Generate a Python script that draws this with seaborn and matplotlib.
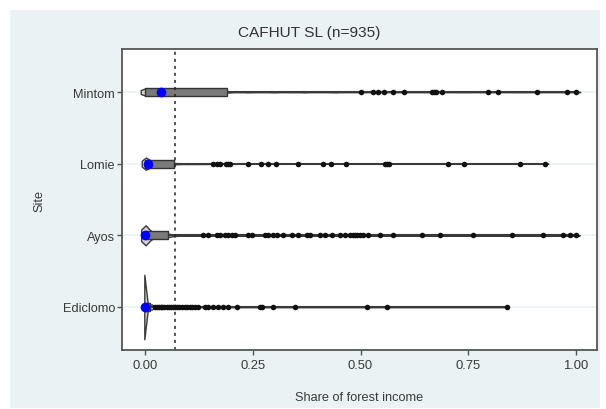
import numpy as np
import pandas as pd
import matplotlib
matplotlib.use("Agg")
import matplotlib.pyplot as plt
import seaborn as sns
from matplotlib.patches import Rectangle

sites = ["Mintom", "Lomie", "Ayos", "Ediclomo"]

# bulk of each site's forest income shares (value, number of households)
mintom_vals = [0.0, 0.01, 0.02, 0.03, 0.037, 0.06, 0.09, 0.12, 0.15, 0.19, 0.24, 0.30, 0.37, 0.44]
mintom_counts = [40, 8, 8, 8, 12, 7, 7, 7, 7, 8, 5, 5, 5, 5]
lomie_vals = [0.0, 0.007, 0.015, 0.025, 0.035, 0.045, 0.055, 0.063, 0.08, 0.10, 0.12, 0.14]
lomie_counts = [55, 30, 6, 6, 6, 6, 6, 8, 5, 5, 5, 5]
ayos_vals = [0.0, 0.005, 0.01, 0.02, 0.03, 0.04, 0.05, 0.06, 0.07, 0.085, 0.10, 0.12]
ayos_counts = [125, 8, 8, 8, 8, 8, 18, 4, 4, 4, 4, 4]
ediclomo_vals = [0.0, 0.005, 0.01, 0.015, 0.02]
ediclomo_counts = [118, 5, 5, 6, 3]

# outside values (drawn as dots)
mintom_out = [0.50, 0.53, 0.54, 0.555, 0.575, 0.60, 0.665, 0.67, 0.675, 0.69,
              0.795, 0.82, 0.91, 0.98, 1.00]
lomie_out = [0.158, 0.167, 0.174, 0.188, 0.193, 0.197, 0.239, 0.269, 0.285, 0.304,
             0.355, 0.413, 0.432, 0.466, 0.557, 0.561, 0.566, 0.703, 0.740, 0.870, 0.928]
ayos_out = [0.135, 0.146, 0.167, 0.174, 0.186, 0.193, 0.202, 0.209, 0.239, 0.248,
            0.278, 0.285, 0.297, 0.306, 0.320, 0.341, 0.355, 0.376, 0.383, 0.406,
            0.418, 0.434, 0.452, 0.464, 0.476, 0.482, 0.487, 0.493, 0.499, 0.505,
            0.517, 0.545, 0.575, 0.643, 0.684, 0.761, 0.851, 0.923, 0.970, 0.986, 1.00]
ediclomo_out = [0.024, 0.028, 0.032, 0.036, 0.040, 0.045, 0.050, 0.055, 0.060, 0.065,
                0.070, 0.075, 0.080, 0.086, 0.092, 0.098, 0.104, 0.110, 0.117, 0.124,
                0.139, 0.146, 0.158, 0.169, 0.181, 0.193, 0.213, 0.267, 0.271, 0.297,
                0.348, 0.515, 0.561, 0.840]

threshold = 0.07
x_ticks = [0.0, 0.25, 0.5, 0.75, 1.0]
x_ticklabels = ["0.00", "0.25", "0.50", "0.75", "1.00"]

# --- build long table ---
parts = []
for site, vals, counts, outs in [
    ("Mintom", mintom_vals, mintom_counts, mintom_out),
    ("Lomie", lomie_vals, lomie_counts, lomie_out),
    ("Ayos", ayos_vals, ayos_counts, ayos_out),
    ("Ediclomo", ediclomo_vals, ediclomo_counts, ediclomo_out),
]:
    core = np.repeat(vals, counts)
    parts.append(pd.DataFrame({"site": site, "share": core, "kind": "core"}))
    parts.append(pd.DataFrame({"site": site, "share": outs, "kind": "outside"}))
df = pd.concat(parts, ignore_index=True)

# violin height and smoothing per site (style only)
violin_width = {"Mintom": 0.10, "Lomie": 0.17, "Ayos": 0.28, "Ediclomo": 0.90}
violin_bw = {"Mintom": 0.12, "Lomie": 0.13, "Ayos": 0.14, "Ediclomo": 0.045}

sns.set_style("ticks")
plt.rcParams["font.family"] = ["Liberation Sans", "DejaVu Sans"]
text_col = "#3a3a3a"

fig = plt.figure(figsize=(6.06, 4.10), dpi=100)
fig.patches.append(Rectangle((10 / 606, 1 / 410), 590 / 606, 398 / 410,
                             transform=fig.transFigure, facecolor="#eaf2f3",
                             edgecolor="none", zorder=-10))
ax = fig.add_axes([122 / 606, 59 / 410, 475 / 606, 301 / 410])
ax.set_facecolor("white")

for site in sites:
    sns.violinplot(data=df[df["site"] == site], x="share", y="site", order=sites,
                   orient="y", width=violin_width[site], density_norm="width",
                   bw_adjust=violin_bw[site], cut=1, inner=None, color="#d2d2d2",
                   linecolor="#3a3a3a", linewidth=1, ax=ax)

sns.boxplot(data=df, x="share", y="site", order=sites, orient="y", width=0.11,
            whis=(0, 100), showcaps=False, showfliers=False, color="#7a7a7a",
            linecolor="#333333", linewidth=1,
            whiskerprops={"linewidth": 1.5, "color": "#3a3a3a"},
            medianprops={"linewidth": 0}, ax=ax)

sns.stripplot(data=df[df["kind"] == "outside"], x="share", y="site", order=sites,
              orient="y", jitter=False, color="#111111", size=4, linewidth=0,
              zorder=3, ax=ax)

sns.pointplot(data=df, x="share", y="site", order=sites, orient="y",
              estimator="median", errorbar=None, color="#0000ff",
              linestyle="none", marker="o", markersize=7,
              markeredgewidth=0, zorder=4, ax=ax)

ax.axvline(threshold, color="#222222", lw=1.1, ls=(0, (2, 2.6)), zorder=2.5)

ax.set_xlim(-0.0534, 1.0487)
ax.set_ylim(3.6, -0.6)
ax.set_xticks(x_ticks)
ax.set_xticklabels(x_ticklabels)
ax.grid(axis="y", color="#eaf2f3", lw=1.2)
ax.grid(axis="x", visible=False)
ax.set_axisbelow(True)

for sp in ax.spines.values():
    sp.set_color("#555555")
    sp.set_linewidth(1.3)
ax.tick_params(axis="x", length=3.6, width=1, color="#555555", pad=3,
               labelsize=9.4, labelcolor=text_col)
ax.tick_params(axis="y", length=3.6, width=1, color="#555555", pad=1.5,
               labelsize=9.2, labelcolor=text_col)

ax.set_xlabel("Share of forest income", fontsize=9.2, color=text_col)
ax.set_ylabel("Site", fontsize=9.2, color=text_col)
ax.xaxis.set_label_coords(0.5, -0.135)
ax.yaxis.set_label_coords(-0.162, 0.5)

fig.text(309 / 606, 1 - 33 / 410, "CAFHUT SL (n=935)", ha="center", va="center",
         fontsize=11.1, color="#333333")

fig.savefig("out.png", dpi=100)
